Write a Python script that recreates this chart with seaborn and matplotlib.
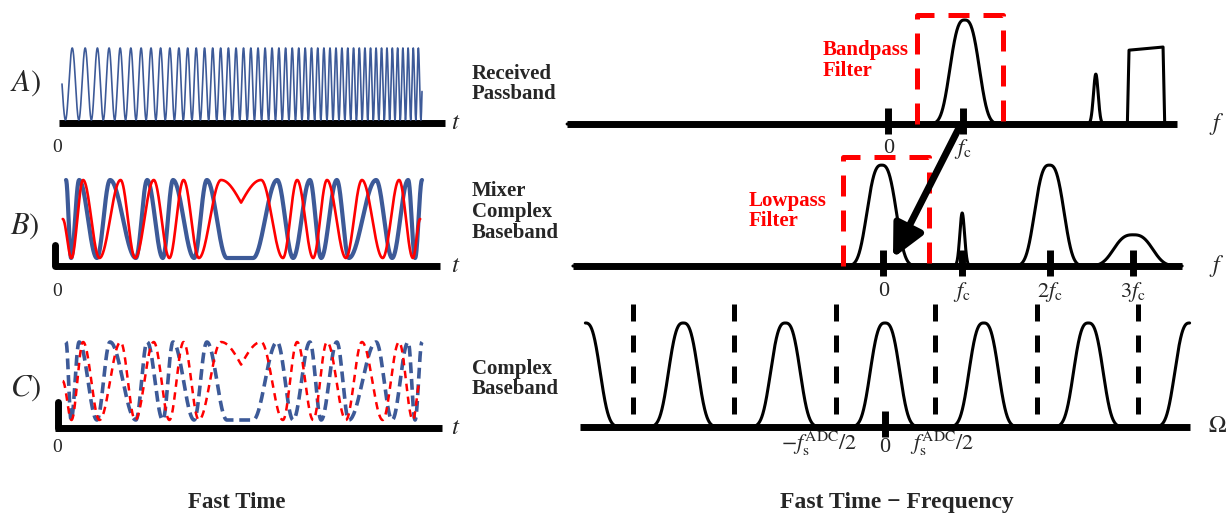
import numpy as np
import matplotlib
matplotlib.use("Agg")
import matplotlib.pyplot as plt
import seaborn as sns

sns.set_theme(style="white")
plt.rcParams["font.family"] = ["Liberation Serif", "DejaVu Serif"]
plt.rcParams["mathtext.fontset"] = "stix"

BLUE = "#3d5a98"
RED = "#ff0000"

## ---- fast time (left column), t normalised to pulse length ----
row_letters = ["$A)$", "$B)$", "$C)$"]
row_names = ["Received\nPassband", "Mixer\nComplex\nBaseband", "Complex\nBaseband"]

# A) received LFM chirp
chirp_span = (0.011, 1.0)
chirp_rate = (26.0, 72.0)   # cycles per unit t at start / end

# B), C) dechirped I (blue) and Q (red): turning points, level 0 = bottom, 1 = top
i_t = [0.022, 0.036, 0.058, 0.107, 0.143, 0.214, 0.245, 0.288, 0.316, 0.374, 0.409,
       0.464, 0.536, 0.602, 0.646, 0.692, 0.723, 0.766, 0.799, 0.874, 0.918, 0.962,
       0.981, 1.000]
i_lvl = [1, 0, 1, 0, 1, 0, 1, 0, 1, 0, 1, 0, 0, 1, 0, 1, 0, 1, 0, 1, 0, 1, 0, 1]
q_t = [0.013, 0.037, 0.069, 0.114, 0.172, 0.212, 0.263, 0.306, 0.345, 0.387, 0.448,
       0.503, 0.558, 0.618, 0.657, 0.701, 0.739, 0.791, 0.835, 0.892, 0.937, 0.975,
       0.995]
q_lvl = [0.5, 0, 1, 0, 1, 0, 1, 0, 1, 0, 1, 0.71, 1, 0, 1, 0, 1, 0, 1, 0, 1, 0, 0.5]
q_cusp = [0.503]

## ---- fast time - frequency (right column), f in units of ~fc ----
rx_peak = (0.96, 1.0, 0.21)          # centre, height, width
rx_tone = (2.54, 0.48, 0.04)
rx_block_f = (2.94, 3.35)
rx_block_h = (0.71, 0.74)
bpf_edges, bpf_top = (0.39, 1.42), 1.05
rx_ticks = [0.04, 0.94]
rx_ticklabels = ["0", r"$f_\mathrm{c}$"]

mix_peaks_f = [-0.04, 1.98, 2.99]
mix_peaks_h = [0.97, 0.97, 0.30]
mix_peaks_w = [0.21, 0.21, 0.28]
mix_tone = (0.93, 0.51, 0.04)
lpf_edges, lpf_top = (-0.51, 0.53), 1.05
mix_ticks = [-0.02, 0.93, 1.99, 2.99]
mix_ticklabels = ["0", r"$f_\mathrm{c}$", r"$2f_\mathrm{c}$", r"$3f_\mathrm{c}$"]

adc_images_f = [-3.61, -2.43, -1.20, 0.0, 1.19, 2.45, 3.67]
adc_nyquist_f = [-3.04, -1.82, -0.59, 0.60, 1.83, 3.05]
adc_nyquist_top = 1.18

W, H = 1228, 519
left_base = [123, 266, 428]
right_base = [124, 266, 427]


def bump(f, c, h, w, p=2.8):
    return h * np.exp(-np.abs((f - c) / w) ** p)


def turning_wave(tk, lv, cusps=(), n=40):
    xs, ys = [], []
    for k in range(len(tk) - 1):
        s = np.linspace(0, 1, n)
        if tk[k + 1] in cusps:
            w = 1 - np.cos(np.pi / 2 * s)
        elif tk[k] in cusps:
            w = np.sin(np.pi / 2 * s)
        else:
            w = (1 - np.cos(np.pi * s)) / 2
        xs.append(tk[k] + (tk[k + 1] - tk[k]) * s)
        ys.append(lv[k] + (lv[k + 1] - lv[k]) * w)
    return np.concatenate(xs), np.concatenate(ys)


def panel(px0, px1, base, ppx_x, zero_x, ppx_y):
    top, bot = base - 135, base + 45
    ax = fig.add_axes([px0 / W, 1 - bot / H, (px1 - px0) / W, (bot - top) / H])
    ax.set_xlim((px0 - zero_x) / ppx_x, (px1 - zero_x) / ppx_x)
    ax.set_ylim(-45 / ppx_y, 135 / ppx_y)
    ax.set_axis_off()
    return ax


def line(ax, x, y, **kw):
    sns.lineplot(x=x, y=y, ax=ax, sort=False, errorbar=None, estimator=None,
                 clip_on=False, **kw)


fig = plt.figure(figsize=(W / 100, H / 100), dpi=100)

bold = dict(fontsize=15, fontweight="bold", va="center", ha="left", linespacing=1.05)

## left column
axes_l = [panel(0, 560, b, 364, 58, 100) for b in left_base]
axis_ends = [(0.003, 1.063), (-0.008, 1.05), (-0.008, 1.055)]
zero_y = [-0.24, -0.26, -0.20]
name_y = [0.39, 0.54, 0.49]
for ax, letter, name, (a0, a1), zy, ny in zip(axes_l, row_letters, row_names,
                                             axis_ends, zero_y, name_y):
    ax.plot([a0, a1], [0, 0], color="black", lw=5, solid_capstyle="butt", clip_on=False)
    ax.text(1.08, 0.0, "$t$", fontsize=18, va="center", ha="left")
    ax.text(-0.003, zy, "0", fontsize=14, va="center", ha="center")
    ax.text(-0.132, 0.40, letter, fontsize=22, va="center", ha="left")
    ax.text(1.137, ny, name, **bold)

# A) chirp
t = np.linspace(*chirp_span, 4000)
s = (t - chirp_span[0]) / (chirp_span[1] - chirp_span[0])
rate = chirp_rate[0] + (chirp_rate[1] - chirp_rate[0]) * s
phase = np.concatenate([[0], np.cumsum(rate[1:] * np.diff(t))])
line(axes_l[0], t, 0.39 - 0.36 * np.sin(2 * np.pi * phase), color=BLUE, lw=1.2)

ti, yi = turning_wave(i_t, i_lvl)
tq, yq = turning_wave(q_t, q_lvl, q_cusp)
lo, hi = 0.08, 0.86
line(axes_l[1], ti, lo + (hi - lo) * yi, color=BLUE, lw=3)
line(axes_l[1], tq, lo + (hi - lo) * yq, color=RED, lw=1.9)
line(axes_l[2], ti, lo + (hi - lo) * yi, color=BLUE, lw=2.6, dashes=(3.0, 1.6))
line(axes_l[2], tq, lo + (hi - lo) * yq, color=RED, lw=1.8, dashes=(3.0, 2.2))
axes_l[1].plot([-0.008, -0.008], [0, 0.21], color="black", lw=5, clip_on=False)
axes_l[2].plot([0.0, 0.0], [0, 0.26], color="black", lw=5, clip_on=False)
axes_l[2].text(0.49, -0.75, "Fast Time", fontsize=16.5, fontweight="bold",
               ha="center", va="center")

## right column
axes_r = [panel(560, 1228, b, 83, 885, 104) for b in right_base]
f_ax = [(-3.83, 3.52), (-3.76, 3.58), (-3.67, 3.67)]
for ax, (a0, a1), sym in zip(axes_r, f_ax, ["$f$", "$f$", r"$\mathrm{\Omega}$"]):
    ax.plot([a0, a1], [0, 0], color="black", lw=5, solid_capstyle="butt", clip_on=False)
    ax.text(4.0, 0.0, sym, fontsize=17, va="center", ha="center")


def ticks(ax, pos, labels, y_lab):
    for p, lab in zip(pos, labels):
        ax.plot([p, p], [-0.1, 0.15], color="black", lw=5, solid_capstyle="butt",
                clip_on=False)
        ax.text(p, y_lab, lab, fontsize=16, ha="center", va="center")


def filter_box(ax, edges, top):
    line(ax, [edges[0], edges[0], edges[1], edges[1]], [0, top, top, 0],
         color=RED, lw=3.6, dashes=(4.2, 2.8))


k = "black"

# A) received passband spectrum
ax = axes_r[0]
f = np.linspace(f_ax[0][0], 2.8, 2000)
spec = bump(f, *rx_peak) + bump(f, *rx_tone, p=2)
blk = np.array([rx_block_f[0] - 0.02, rx_block_f[0], rx_block_f[1], rx_block_f[1] + 0.02])
line(ax, f, spec, color=k, lw=2.2)
line(ax, blk, [0, rx_block_h[0], rx_block_h[1], 0], color=k, lw=2.2)
filter_box(ax, bpf_edges, bpf_top)
ticks(ax, rx_ticks, rx_ticklabels, -0.24)
ax.text(-0.75, 0.61, "Bandpass\nFilter", color=RED, **bold)

# B) mixer output spectrum
ax = axes_r[1]
f = np.linspace(*f_ax[1], 3000)
spec = bump(f, *mix_tone, p=2)
for c, h, w in zip(mix_peaks_f, mix_peaks_h, mix_peaks_w):
    spec = spec + bump(f, c, h, w)
line(ax, f, spec, color=k, lw=2.2)
filter_box(ax, lpf_edges, lpf_top)
ticks(ax, mix_ticks, mix_ticklabels, -0.25)
ax.text(-1.64, 0.53, "Lowpass\nFilter", color=RED, **bold)
ax.annotate("", xy=(0.096, 0.077), xytext=(0.88, 1.31),
            arrowprops=dict(arrowstyle="-|>,head_length=0.65,head_width=0.32",
                            lw=5, color="black", mutation_scale=30,
                            shrinkA=0, shrinkB=0), annotation_clip=False)

# C) sampled complex baseband spectrum
ax = axes_r[2]
f = np.linspace(adc_images_f[0], adc_images_f[-1], 3000)
spec = sum(bump(f, c, 1.0, 0.21) for c in adc_images_f)
line(ax, f, spec, color=k, lw=2.2)
for p in adc_nyquist_f:
    line(ax, [p, p], [adc_nyquist_top, 0], color=k, lw=3.6, dashes=(3.4, 2.8))
ticks(ax, [0.0], ["0"], -0.2)
ax.text(-0.33, -0.16, r"$-f_\mathrm{s}^\mathrm{ADC}/2$", fontsize=16, ha="right", va="center")
ax.text(0.30, -0.16, r"$f_\mathrm{s}^\mathrm{ADC}/2$", fontsize=16, ha="left", va="center")
ax.text(0.145, -0.73, "Fast Time \u2212 Frequency", fontsize=17, fontweight="bold",
        ha="center", va="center")

fig.savefig("out.png", dpi=100)
